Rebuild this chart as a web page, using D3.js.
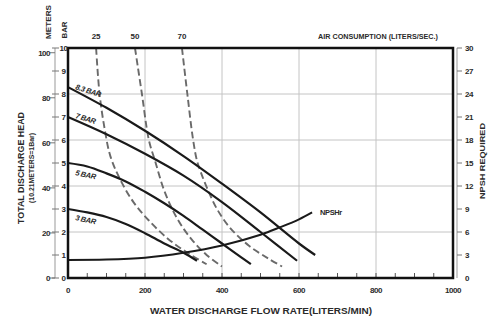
<!DOCTYPE html>
<html>
<head>
<meta charset="utf-8">
<script src="https://cdn.jsdelivr.net/npm/d3@7"></script>
<style>
  body { margin: 0; background: #fff; }
  svg text { font-family: "Liberation Sans", Arial, sans-serif; font-weight: bold; fill: #2a2a2a; }
</style>
</head>
<body>
<svg id="chart" width="488" height="320"></svg>
<script>
// pump curves, flow in liters/min, head in bar
var flowTicks = [0, 200, 400, 600, 800, 1000];
var barTicks = [0, 1, 2, 3, 4, 5, 6, 7, 8, 9, 10];
var meterTicks = [0, 20, 40, 60, 80, 100];
var npshTicks = [0, 3, 6, 9, 12, 15, 18, 21, 24, 27, 30];

var bar83Flow = [0, 100, 200, 300, 400, 500, 600, 642];
var bar83Head = [8.3, 7.4, 6.4, 5.3, 4.1, 2.85, 1.5, 1.0];
var bar7Flow = [0, 100, 200, 300, 400, 500, 595];
var bar7Head = [7.0, 6.25, 5.4, 4.45, 3.3, 2.0, 0.75];
var bar5Flow = [0, 50, 100, 150, 200, 250, 300, 350, 400, 450, 475];
var bar5Head = [5.0, 4.85, 4.55, 4.2, 3.75, 3.25, 2.7, 2.1, 1.5, 0.9, 0.6];
var bar3Flow = [0, 50, 100, 150, 200, 250, 300, 335];
var bar3Head = [3.0, 2.85, 2.65, 2.35, 1.95, 1.5, 1.1, 0.75];

// air consumption (liters/sec) lines
var air25Flow = [73, 82, 95, 110, 135, 170, 210, 260, 310, 360];
var air25Head = [10, 8, 6.5, 5.3, 4.3, 3.3, 2.5, 1.7, 1.1, 0.6];
var air50Flow = [174, 192, 210, 226, 250, 283, 320, 360, 400];
var air50Head = [10, 8, 6, 5.1, 3.8, 2.6, 1.7, 1.0, 0.5];
var air70Flow = [296, 310, 325, 335, 345, 364, 387, 420, 470, 520, 556];
var air70Head = [10, 8, 6, 5.1, 4.6, 3.8, 3.0, 2.2, 1.4, 0.85, 0.5];

// NPSH required, meters
var npshFlow = [0, 100, 200, 300, 400, 500, 550, 600, 634];
var npshHead = [2.35, 2.4, 2.65, 3.3, 4.25, 5.65, 6.6, 7.65, 8.55];

var svg = d3.select("#chart");

var x = d3.scaleLinear().domain([0, 1000]).range([68, 453]);
var yBar = d3.scaleLinear().domain([0, 10]).range([278, 48]);
var yMeter = d3.scaleLinear().domain([0, 102.1]).range([278, 48]);
var yNpsh = d3.scaleLinear().domain([0, 30]).range([278, 48]);

function zip(a, b) { return a.map(function(v, i) { return [v, b[i]]; }); }

// grid
var grid = svg.append("g").attr("stroke", "#c4c4c4").attr("stroke-width", 1);
grid.selectAll("line.v").data([200, 400, 600, 800]).enter().append("line")
  .attr("x1", function(d) { return x(d); }).attr("x2", function(d) { return x(d); })
  .attr("y1", yBar(10)).attr("y2", yBar(0));
grid.selectAll("line.h").data([2, 4, 6, 8]).enter().append("line")
  .attr("y1", function(d) { return yBar(d); }).attr("y2", function(d) { return yBar(d); })
  .attr("x1", x(0)).attr("x2", x(1000));

// minor ticks inside bottom
svg.append("g").attr("stroke", "#555").attr("stroke-width", 1)
  .selectAll("line").data(d3.range(50, 1000, 50)).enter().append("line")
  .attr("x1", function(d) { return x(d); }).attr("x2", function(d) { return x(d); })
  .attr("y1", yBar(0)).attr("y2", yBar(0) - 5);

// air consumption dashed curves
var lineBar = d3.line()
  .x(function(d) { return x(d[0]); })
  .y(function(d) { return yBar(d[1]); })
  .curve(d3.curveCatmullRom);

var airSeries = [
  { label: "25", pts: zip(air25Flow, air25Head) },
  { label: "50", pts: zip(air50Flow, air50Head) },
  { label: "70", pts: zip(air70Flow, air70Head) }
];
svg.append("g").selectAll("path").data(airSeries).enter().append("path")
  .attr("d", function(d) { return lineBar(d.pts); })
  .attr("fill", "none").attr("stroke", "#6a6a6a").attr("stroke-width", 1.9)
  .attr("stroke-dasharray", "7,3.5");
svg.append("g").selectAll("text").data(airSeries).enter().append("text")
  .attr("x", function(d) { return x(d.pts[0][0]); })
  .attr("y", 39).attr("text-anchor", "middle").attr("font-size", 8)
  .text(function(d) { return d.label; });

// pressure curves
var barSeries = [
  { label: "8.3 BAR", pts: zip(bar83Flow, bar83Head), dy: 2, rot: 18 },
  { label: "7 BAR", pts: zip(bar7Flow, bar7Head), dy: 1, rot: 17 },
  { label: "5 BAR", pts: zip(bar5Flow, bar5Head), dy: 12, rot: 12 },
  { label: "3 BAR", pts: zip(bar3Flow, bar3Head), dy: 11, rot: 12 }
];
svg.append("g").selectAll("path").data(barSeries).enter().append("path")
  .attr("d", function(d) { return lineBar(d.pts); })
  .attr("fill", "none").attr("stroke", "#1a1a1a").attr("stroke-width", 2.2);
svg.append("g").selectAll("text").data(barSeries).enter().append("text")
  .attr("transform", function(d) {
    var px = x(0) + 7, py = yBar(d.pts[0][1]) + d.dy;
    return "translate(" + px + "," + py + ") rotate(" + d.rot + ")";
  })
  .attr("font-size", 7.5).attr("font-style", "italic").attr("letter-spacing", -0.4)
  .text(function(d) { return d.label; });

// NPSHr
var lineNpsh = d3.line()
  .x(function(d) { return x(d[0]); })
  .y(function(d) { return yNpsh(d[1]); })
  .curve(d3.curveCatmullRom);
svg.append("path").attr("d", lineNpsh(zip(npshFlow, npshHead)))
  .attr("fill", "none").attr("stroke", "#1a1a1a").attr("stroke-width", 2);
svg.append("text").attr("x", x(npshFlow[npshFlow.length - 1]) + 8)
  .attr("y", yNpsh(npshHead[npshHead.length - 1]) + 3)
  .attr("font-size", 7.5).attr("letter-spacing", -0.4).text("NPSHr");

// frame
svg.append("rect").attr("x", x(0)).attr("y", yBar(10))
  .attr("width", x(1000) - x(0)).attr("height", yBar(0) - yBar(10))
  .attr("fill", "none").attr("stroke", "#111").attr("stroke-width", 2.5);

// bottom axis labels
svg.append("g").selectAll("text").data(flowTicks).enter().append("text")
  .attr("x", function(d) { return x(d); }).attr("y", 293)
  .attr("text-anchor", "middle").attr("font-size", 8).attr("letter-spacing", -0.4)
  .text(function(d) { return d; });
svg.append("text").attr("x", 261).attr("y", 314).attr("text-anchor", "middle")
  .attr("font-size", 9.5).attr("textLength", 222).attr("lengthAdjust", "spacingAndGlyphs")
  .text("WATER DISCHARGE FLOW RATE(LITERS/MIN)");

// left axes: meters + bar
var left = svg.append("g");
left.append("line").attr("x1", 55).attr("x2", 55).attr("y1", yBar(10)).attr("y2", yBar(0))
  .attr("stroke", "#999").attr("stroke-width", 1);
left.selectAll("line.b").data(barTicks).enter().append("line")
  .attr("x1", 52).attr("x2", 59)
  .attr("y1", function(d) { return yBar(d); }).attr("y2", function(d) { return yBar(d); })
  .attr("stroke", "#777");
left.selectAll("text.b").data(barTicks).enter().append("text")
  .attr("x", 63.5).attr("y", function(d) { return yBar(d) + 3; })
  .attr("text-anchor", "middle").attr("font-size", 8).attr("letter-spacing", -0.5)
  .text(function(d) { return d; });
left.selectAll("line.m").data(meterTicks).enter().append("line")
  .attr("x1", 50).attr("x2", 55)
  .attr("y1", function(d) { return yMeter(d); }).attr("y2", function(d) { return yMeter(d); })
  .attr("stroke", "#777");
left.selectAll("text.m").data(meterTicks).enter().append("text")
  .attr("x", 50).attr("y", function(d) { return yMeter(d) + 3; })
  .attr("text-anchor", "end").attr("font-size", 8).attr("letter-spacing", -0.5)
  .text(function(d) { return d; });

svg.append("text").attr("transform", "translate(51,22) rotate(-90)")
  .attr("text-anchor", "middle").attr("font-size", 7.5)
  .attr("textLength", 34).attr("lengthAdjust", "spacingAndGlyphs").text("METERS");
svg.append("text").attr("transform", "translate(67,30) rotate(-90)")
  .attr("text-anchor", "middle").attr("font-size", 7.5)
  .attr("textLength", 17).attr("lengthAdjust", "spacingAndGlyphs").text("BAR");
svg.append("text").attr("transform", "translate(24,168) rotate(-90)")
  .attr("text-anchor", "middle").attr("font-size", 8.5)
  .attr("textLength", 112).attr("lengthAdjust", "spacingAndGlyphs").text("TOTAL DISCHARGE HEAD");
svg.append("text").attr("transform", "translate(34,168) rotate(-90)")
  .attr("text-anchor", "middle").attr("font-size", 7.5)
  .attr("textLength", 70).attr("lengthAdjust", "spacingAndGlyphs").text("(10.21METERS=1Bar)");

// right axis: NPSH
var right = svg.append("g");
right.append("line").attr("x1", 457).attr("x2", 457).attr("y1", yNpsh(30)).attr("y2", yNpsh(0))
  .attr("stroke", "#999");
right.selectAll("line").data(npshTicks).enter().append("line")
  .attr("x1", 457).attr("x2", 462)
  .attr("y1", function(d) { return yNpsh(d); }).attr("y2", function(d) { return yNpsh(d); })
  .attr("stroke", "#777");
right.selectAll("text").data(npshTicks).enter().append("text")
  .attr("x", 465).attr("y", function(d) { return yNpsh(d) + 3; })
  .attr("font-size", 8).attr("letter-spacing", -0.5)
  .text(function(d) { return d; });
svg.append("text").attr("transform", "translate(485,161) rotate(-90)")
  .attr("text-anchor", "middle").attr("font-size", 8)
  .attr("textLength", 76).attr("lengthAdjust", "spacingAndGlyphs").text("NPSH REQUIRED");

svg.append("text").attr("x", 318).attr("y", 39).attr("font-size", 7.5)
  .attr("textLength", 120).attr("lengthAdjust", "spacingAndGlyphs")
  .text("AIR CONSUMPTION (LITERS/SEC.)");
</script>
</body>
</html>
